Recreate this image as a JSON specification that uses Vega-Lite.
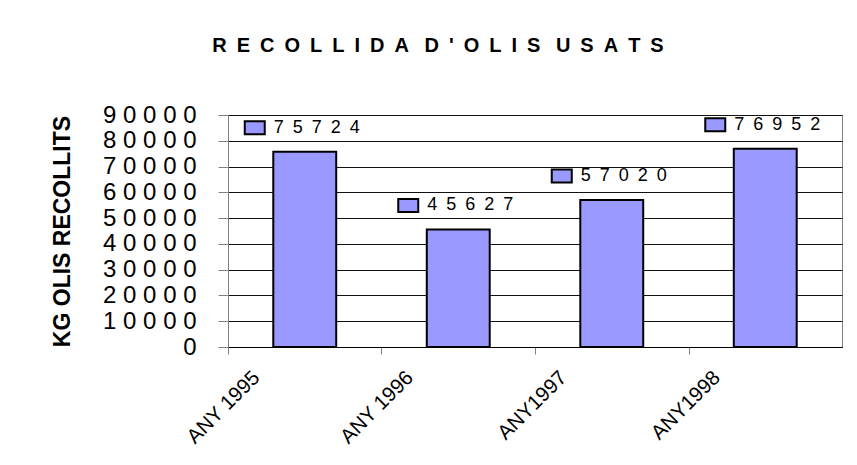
{
  "$schema": "https://vega.github.io/schema/vega-lite/v6.json",
  "width": 614,
  "height": 232,
  "autosize": {"type": "none"},
  "padding": {"left": 228, "top": 115, "right": 15, "bottom": 118},
  "background": "white",
  "title": {
    "text": "R\u2002E\u2002C\u2002O\u2002L\u2002L\u2002I\u2002D\u2002A\u2002 D\u2002'\u2002O\u2002L\u2002I\u2002S\u2002 U\u2002S\u2002A\u2002T\u2002S",
    "font": "Liberation Sans",
    "fontSize": 20,
    "fontWeight": "bold",
    "color": "#000000",
    "anchor": "middle",
    "frame": "group",
    "baseline": "alphabetic",
    "offset": 56,
    "dx": -97,
    "dy": 25
  },
  "data": {
    "values": [
      {"any": "ANY 1995", "kg": 75724},
      {"any": "ANY 1996", "kg": 45627},
      {"any": "ANY1997", "kg": 57020},
      {"any": "ANY1998", "kg": 76952}
    ]
  },
  "encoding": {
    "x": {
      "field": "any",
      "type": "nominal",
      "sort": null,
      "scale": {"paddingInner": 0.59, "paddingOuter": 0.295},
      "axis": {
        "title": null,
        "labelAngle": -45,
        "labelFont": "Liberation Sans",
        "labelFontSize": 20.5,
        "labelColor": "#000000",
        "tickOffset": -76.75,
        "labelOffset": 21,
        "tickSize": 7,
        "tickColor": "#808080",
        "domainColor": "#000000",
        "grid": false,
        "labelPadding": 13
      }
    },
    "y": {
      "field": "kg",
      "type": "quantitative",
      "scale": {"domain": [0, 90000], "nice": false},
      "axis": {
        "title": "KG OLIS RECOLLITS",
        "titleFont": "Liberation Sans",
        "titleFontSize": 23,
        "titleFontWeight": "bold",
        "titleColor": "#000000",
        "titlePadding": 28,
        "values": [0, 10000, 20000, 30000, 40000, 50000, 60000, 70000, 80000, 90000],
        "format": "d",
        "labelExpr": "join(split(datum.label, ''), ' ')",
        "labelFont": "Liberation Sans",
        "labelFontSize": 24,
        "labelColor": "#000000",
        "labelPadding": 22,
        "tickSize": 10,
        "tickColor": "#808080",
        "domainColor": "#808080",
        "grid": true,
        "gridColor": "#111111",
        "gridWidth": 1
      }
    }
  },
  "layer": [
    {
      "mark": {"type": "bar", "color": "#9999FF", "stroke": "#000000", "strokeWidth": 2}
    },
    {
      "mark": {
        "type": "point",
        "shape": "M-1,-0.65L1,-0.65L1,0.65L-1,0.65Z",
        "size": 400,
        "filled": true,
        "fill": "#9999FF",
        "stroke": "#000000",
        "strokeWidth": 2,
        "opacity": 1,
        "xOffset": -50,
        "yOffset": -24
      }
    },
    {
      "mark": {
        "type": "text",
        "text": {"expr": "join(split(toString(datum.kg), ''), '\u2002')"},
        "font": "Liberation Sans",
        "fontSize": 18,
        "color": "#000000",
        "align": "left",
        "baseline": "middle",
        "xOffset": -31,
        "yOffset": -24
      }
    }
  ],
  "config": {
    "view": {"stroke": "#808080", "strokeWidth": 1}
  }
}
